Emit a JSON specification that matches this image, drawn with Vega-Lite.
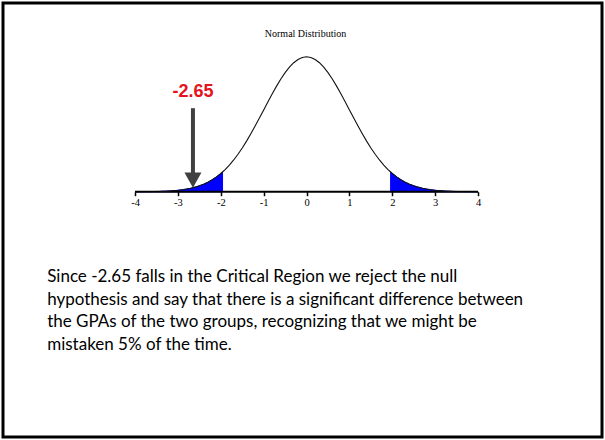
{
  "$schema": "https://vega.github.io/schema/vega-lite/v6.json",
  "width": 599,
  "height": 434,
  "autosize": {"type": "none"},
  "padding": 3,
  "background": "#ffffff",
  "title": {
    "text": "Normal Distribution",
    "font": "Liberation Serif",
    "fontSize": 10,
    "fontWeight": "normal",
    "color": "#000000",
    "anchor": "middle",
    "baseline": "middle",
    "offset": -41,
    "dx": 3
  },
  "datasets": {
    "pdf": [
      {"z": -4.0, "density": 0.0001}, {"z": -3.9, "density": 0.0002}, {"z": -3.8, "density": 0.0003},
      {"z": -3.7, "density": 0.0004}, {"z": -3.6, "density": 0.0006}, {"z": -3.5, "density": 0.0009},
      {"z": -3.4, "density": 0.0012}, {"z": -3.3, "density": 0.0017}, {"z": -3.2, "density": 0.0024},
      {"z": -3.1, "density": 0.0033}, {"z": -3.0, "density": 0.0044}, {"z": -2.9, "density": 0.0060},
      {"z": -2.8, "density": 0.0079}, {"z": -2.7, "density": 0.0104}, {"z": -2.6, "density": 0.0136},
      {"z": -2.5, "density": 0.0175}, {"z": -2.4, "density": 0.0224}, {"z": -2.3, "density": 0.0283},
      {"z": -2.2, "density": 0.0355}, {"z": -2.1, "density": 0.0440}, {"z": -2.0, "density": 0.0540},
      {"z": -1.96, "density": 0.0584}, {"z": -1.9, "density": 0.0656}, {"z": -1.8, "density": 0.0790},
      {"z": -1.7, "density": 0.0940}, {"z": -1.6, "density": 0.1109}, {"z": -1.5, "density": 0.1295},
      {"z": -1.4, "density": 0.1497}, {"z": -1.3, "density": 0.1714}, {"z": -1.2, "density": 0.1942},
      {"z": -1.1, "density": 0.2179}, {"z": -1.0, "density": 0.2420}, {"z": -0.9, "density": 0.2661},
      {"z": -0.8, "density": 0.2897}, {"z": -0.7, "density": 0.3123}, {"z": -0.6, "density": 0.3332},
      {"z": -0.5, "density": 0.3521}, {"z": -0.4, "density": 0.3683}, {"z": -0.3, "density": 0.3814},
      {"z": -0.2, "density": 0.3910}, {"z": -0.1, "density": 0.3970}, {"z": 0.0, "density": 0.3989},
      {"z": 0.1, "density": 0.3970}, {"z": 0.2, "density": 0.3910}, {"z": 0.3, "density": 0.3814},
      {"z": 0.4, "density": 0.3683}, {"z": 0.5, "density": 0.3521}, {"z": 0.6, "density": 0.3332},
      {"z": 0.7, "density": 0.3123}, {"z": 0.8, "density": 0.2897}, {"z": 0.9, "density": 0.2661},
      {"z": 1.0, "density": 0.2420}, {"z": 1.1, "density": 0.2179}, {"z": 1.2, "density": 0.1942},
      {"z": 1.3, "density": 0.1714}, {"z": 1.4, "density": 0.1497}, {"z": 1.5, "density": 0.1295},
      {"z": 1.6, "density": 0.1109}, {"z": 1.7, "density": 0.0940}, {"z": 1.8, "density": 0.0790},
      {"z": 1.9, "density": 0.0656}, {"z": 1.96, "density": 0.0584}, {"z": 2.0, "density": 0.0540},
      {"z": 2.1, "density": 0.0440}, {"z": 2.2, "density": 0.0355}, {"z": 2.3, "density": 0.0283},
      {"z": 2.4, "density": 0.0224}, {"z": 2.5, "density": 0.0175}, {"z": 2.6, "density": 0.0136},
      {"z": 2.7, "density": 0.0104}, {"z": 2.8, "density": 0.0079}, {"z": 2.9, "density": 0.0060},
      {"z": 3.0, "density": 0.0044}, {"z": 3.1, "density": 0.0033}, {"z": 3.2, "density": 0.0024},
      {"z": 3.3, "density": 0.0017}, {"z": 3.4, "density": 0.0012}, {"z": 3.5, "density": 0.0009},
      {"z": 3.6, "density": 0.0006}, {"z": 3.7, "density": 0.0004}, {"z": 3.8, "density": 0.0003},
      {"z": 3.9, "density": 0.0002}, {"z": 4.0, "density": 0.0001}
    ],
    "axisLine": [{"from": -4, "to": 4, "density": 0}],
    "observed": [{"z": -2.65, "label": "-2.65"}],
    "note": [{"text": "Since -2.65 falls in the Critical Region we reject the null\nhypothesis and say that there is a significant difference between\nthe GPAs of the two groups, recognizing that we might be\nmistaken 5% of the time."}]
  },
  "layer": [
    {
      "data": {"name": "pdf"},
      "transform": [{"filter": "datum.z <= -1.96"}],
      "mark": {"type": "area", "color": "#0000ff", "stroke": "#0000ff", "strokeWidth": 1},
      "encoding": {
        "x": {
          "field": "z", "type": "quantitative",
          "scale": {"domain": [-7.08, 6.89], "nice": false, "zero": false},
          "axis": {
            "values": [-4, -3, -2, -1, 0, 1, 2, 3, 4],
            "labelExpr": "(datum.value < 0 ? '-' : '') + abs(datum.value)",
            "title": null,
            "domain": false,
            "grid": false,
            "offset": -245.3,
            "tickSize": 4,
            "tickWidth": 1.5,
            "tickColor": "#000000",
            "labelFont": "Liberation Serif",
            "labelFontSize": 10.5,
            "labelColor": "#000000",
            "labelPadding": 2
          }
        },
        "y": {
          "field": "density", "type": "quantitative",
          "scale": {"domain": [-0.725, 0.558], "nice": false, "zero": false},
          "axis": null
        },
        "y2": {"datum": 0}
      }
    },
    {
      "data": {"name": "pdf"},
      "transform": [{"filter": "datum.z >= 1.96"}],
      "mark": {"type": "area", "color": "#0000ff", "stroke": "#0000ff", "strokeWidth": 1},
      "encoding": {
        "x": {"field": "z", "type": "quantitative", "title": null, "scale": {"domain": [-7.08, 6.89], "nice": false, "zero": false}},
        "y": {"field": "density", "type": "quantitative", "axis": null, "scale": {"domain": [-0.725, 0.558], "nice": false, "zero": false}},
        "y2": {"datum": 0}
      }
    },
    {
      "data": {"name": "axisLine"},
      "mark": {"type": "rule", "color": "#000000", "strokeWidth": 2},
      "encoding": {
        "x": {"field": "from", "type": "quantitative", "title": null, "scale": {"domain": [-7.08, 6.89], "nice": false, "zero": false}},
        "x2": {"field": "to"},
        "y": {"field": "density", "type": "quantitative", "axis": null, "scale": {"domain": [-0.725, 0.558], "nice": false, "zero": false}}
      }
    },
    {
      "data": {"name": "pdf"},
      "transform": [{"filter": "abs(datum.z) <= 3.4"}],
      "mark": {"type": "line", "color": "#111111", "strokeWidth": 1.1},
      "encoding": {
        "x": {"field": "z", "type": "quantitative", "title": null, "scale": {"domain": [-7.08, 6.89], "nice": false, "zero": false}},
        "y": {"field": "density", "type": "quantitative", "axis": null, "scale": {"domain": [-0.725, 0.558], "nice": false, "zero": false}}
      }
    },
    {
      "data": {"name": "observed"},
      "mark": {"type": "rule", "color": "#404040", "strokeWidth": 4},
      "encoding": {
        "x": {"field": "z", "type": "quantitative", "title": null, "scale": {"domain": [-7.08, 6.89], "nice": false, "zero": false}},
        "y": {"datum": 0.247, "type": "quantitative", "axis": null, "scale": {"domain": [-0.725, 0.558], "nice": false, "zero": false}},
        "y2": {"datum": 0.055}
      }
    },
    {
      "data": {"name": "observed"},
      "mark": {"type": "point", "filled": true, "color": "#404040", "opacity": 1, "shape": "M-1,-1.8L1,-1.8L0,0Z", "size": 289},
      "encoding": {
        "x": {"field": "z", "type": "quantitative", "title": null, "scale": {"domain": [-7.08, 6.89], "nice": false, "zero": false}},
        "y": {"datum": 0.012, "type": "quantitative", "axis": null, "scale": {"domain": [-0.725, 0.558], "nice": false, "zero": false}}
      }
    },
    {
      "data": {"name": "observed"},
      "mark": {"type": "text", "color": "#e3141c", "font": "Liberation Sans", "fontSize": 18, "fontWeight": "bold", "align": "center", "baseline": "middle"},
      "encoding": {
        "x": {"field": "z", "type": "quantitative", "title": null, "scale": {"domain": [-7.08, 6.89], "nice": false, "zero": false}},
        "y": {"datum": 0.2955, "type": "quantitative", "axis": null, "scale": {"domain": [-0.725, 0.558], "nice": false, "zero": false}},
        "text": {"field": "label"}
      }
    },
    {
      "data": {"name": "note"},
      "mark": {"type": "text", "color": "#000000", "font": "Lato", "fontSize": 17, "align": "left", "baseline": "alphabetic", "lineBreak": "\n", "lineHeight": 22.8},
      "encoding": {
        "x": {"datum": -6.05, "type": "quantitative", "title": null, "scale": {"domain": [-7.08, 6.89], "nice": false, "zero": false}},
        "y": {"datum": -0.266, "type": "quantitative", "axis": null, "scale": {"domain": [-0.725, 0.558], "nice": false, "zero": false}},
        "text": {"field": "text"}
      }
    }
  ],
  "config": {
    "view": {"stroke": "#000000", "strokeWidth": 3},
    "axis": {"grid": false}
  }
}
